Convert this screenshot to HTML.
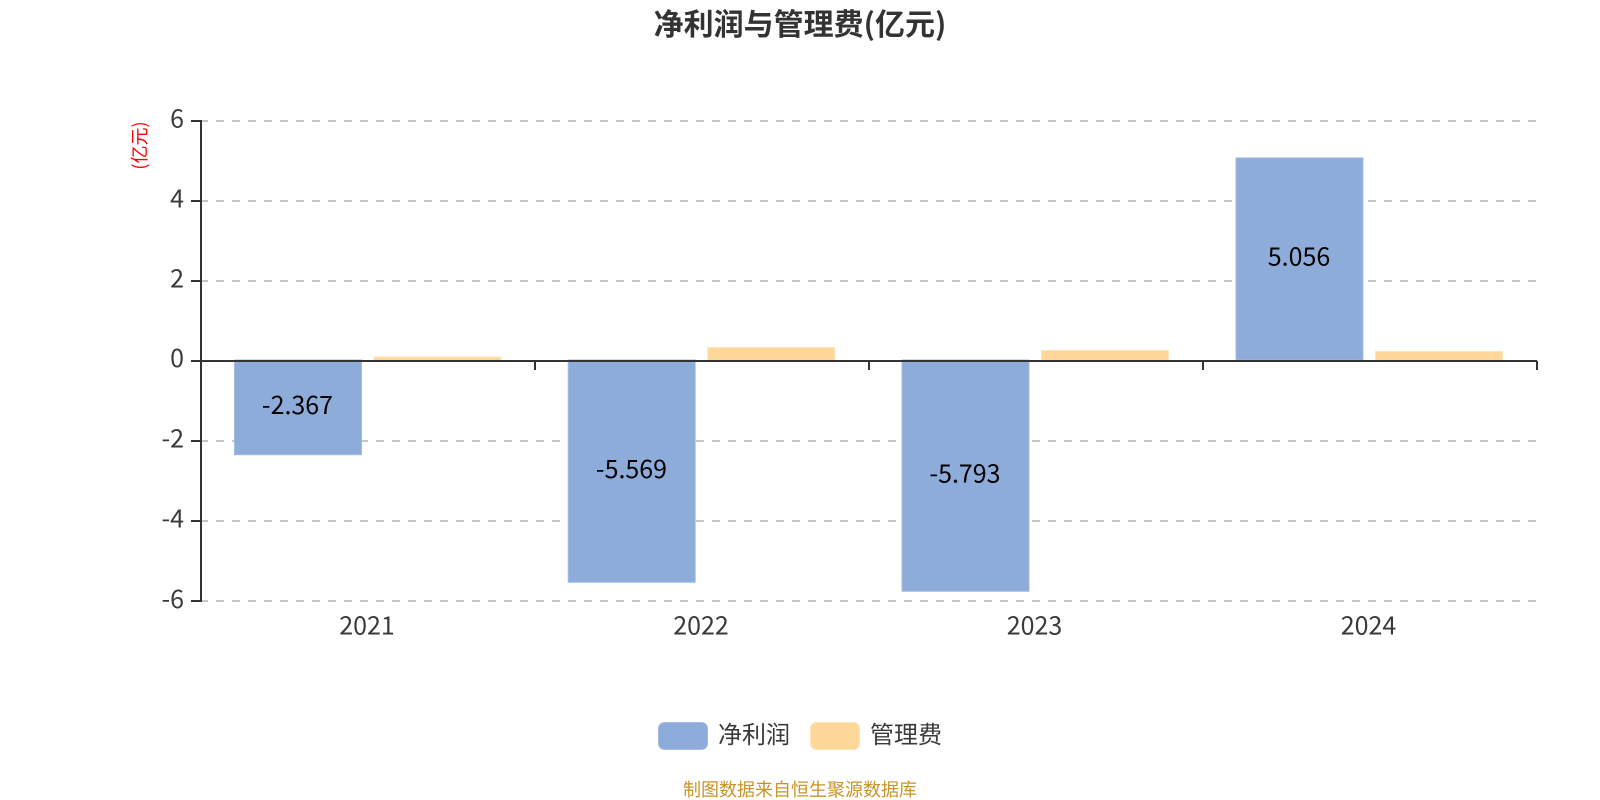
<!DOCTYPE html>
<html><head><meta charset="utf-8"><style>
html,body{margin:0;padding:0;background:#fff;width:1600px;height:800px;overflow:hidden}
svg{display:block}
text{font-family:"Liberation Sans","Noto Sans CJK SC",sans-serif}
.n{font-family:"Noto Sans CJK SC",sans-serif;font-size:25px;fill:#3a3a3a}
.d{font-family:"Noto Sans CJK SC",sans-serif;font-size:25px;fill:#000;text-anchor:middle}
.c{font-family:"Noto Sans CJK SC",sans-serif}
</style></head><body>
<svg width="1600" height="800" viewBox="0 0 1600 800" xmlns="http://www.w3.org/2000/svg">
<rect width="1600" height="800" fill="#fff"/>
<text class="c" x="800" y="35" font-size="30" font-weight="700" fill="#333" text-anchor="middle">净利润与管理费(亿元)</text>
<g stroke="#c6c6c6" stroke-width="2" stroke-dasharray="8 8" fill="none">
<path d="M200 121H1537M200 201H1537M200 281H1537M200 441H1537M200 521H1537M200 601H1537"/>
</g>
<g fill="#8dacda" stroke="#a3bce2" stroke-width="1">
<rect x="234.5" y="360" width="127" height="94.7"/>
<rect x="568.2" y="360" width="127" height="222.3"/>
<rect x="902" y="360" width="127" height="231.3"/>
<rect x="1236" y="157.9" width="127" height="202.1"/>
</g>
<g fill="#ffd899" stroke="#ffe4b8" stroke-width="1">
<rect x="374" y="357" width="127" height="3.5"/>
<rect x="707.7" y="347.5" width="127" height="13"/>
<rect x="1041.5" y="350.5" width="127" height="10"/>
<rect x="1375.5" y="351.5" width="127" height="9"/>
</g>
<g stroke="#333" stroke-width="2" fill="none">
<path d="M201 120V602"/>
<path d="M191 121H201M191 201H201M191 281H201M191 361H201M191 441H201M191 521H201M191 601H201"/>
<path d="M201 361H1537"/>
<path d="M535 361V370M869 361V370M1203 361V370M1537 361V370"/>
</g>
<text class="n" x="184" y="127.5" text-anchor="end">6</text>
<text class="n" x="184" y="207.5" text-anchor="end">4</text>
<text class="n" x="184" y="287.5" text-anchor="end">2</text>
<text class="n" x="184" y="367" text-anchor="end">0</text>
<text class="n" x="184" y="447.5" text-anchor="end">-2</text>
<text class="n" x="184" y="527.5" text-anchor="end">-4</text>
<text class="n" x="184" y="608" text-anchor="end">-6</text>
<text class="n" x="367" y="634.5" text-anchor="middle">2021</text>
<text class="n" x="701" y="634.5" text-anchor="middle">2022</text>
<text class="n" x="1034.5" y="634.5" text-anchor="middle">2023</text>
<text class="n" x="1368.5" y="634.5" text-anchor="middle">2024</text>
<text class="d" x="297.5" y="414">-2.367</text>
<text class="d" x="631.5" y="478">-5.569</text>
<text class="d" x="965" y="482.5">-5.793</text>
<text class="d" x="1299" y="265.5">5.056</text>
<text class="c" transform="translate(146,145.5) rotate(-90)" font-size="18" fill="#ff0000" text-anchor="middle">(亿元)</text>
<rect x="658.5" y="722.5" width="49" height="27" rx="6" fill="#8dacda" stroke="#a3bce2"/>
<rect x="810.5" y="722.5" width="49" height="27" rx="6" fill="#ffd899" stroke="#ffe4b8"/>
<text class="c" x="718" y="743" font-size="24" fill="#3a3a3a">净利润</text>
<text class="c" x="870" y="743" font-size="24" fill="#3a3a3a">管理费</text>
<text class="c" x="800" y="796" font-size="18" fill="#c8932a" text-anchor="middle">制图数据来自恒生聚源数据库</text>
</svg>
</body></html>
